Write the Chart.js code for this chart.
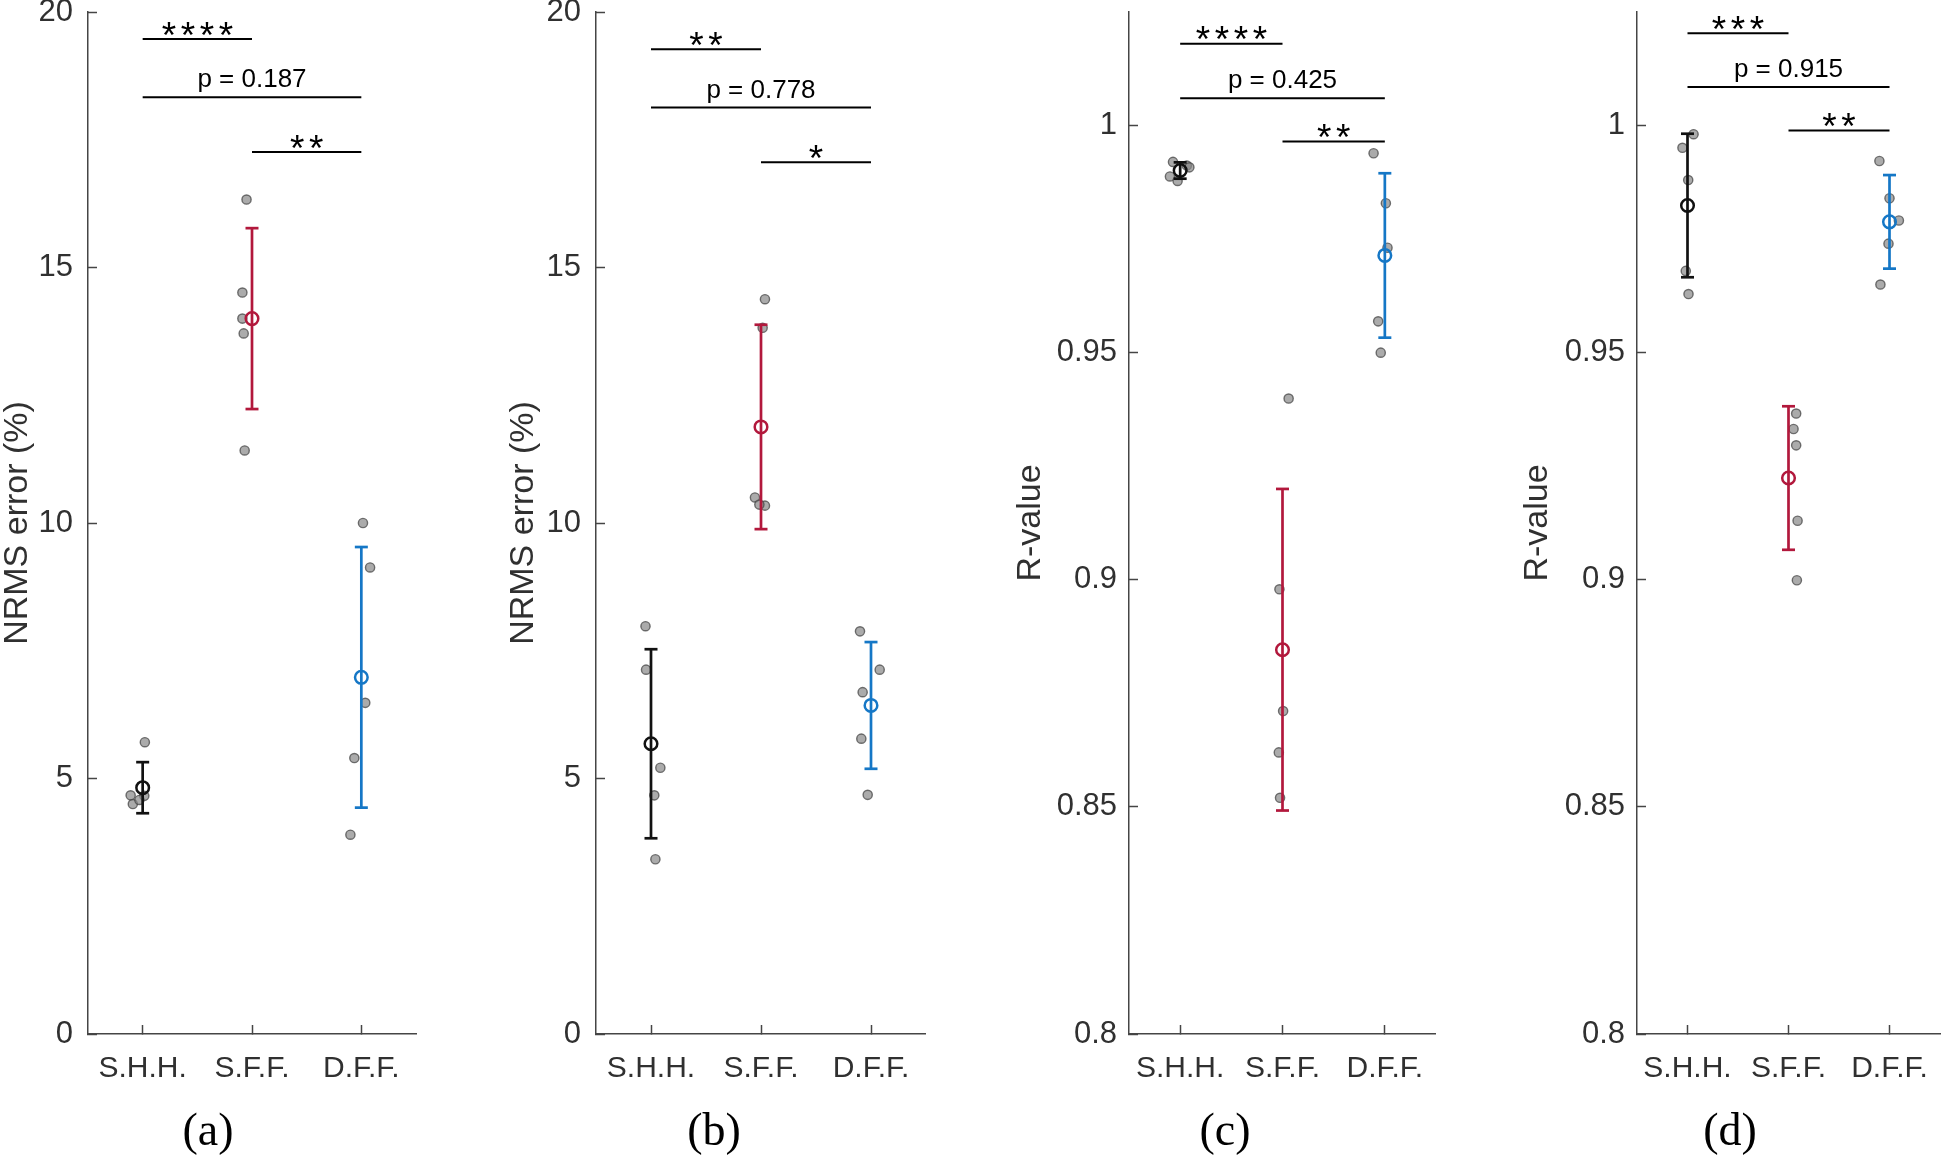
<!DOCTYPE html>
<html>
<head>
<meta charset="utf-8">
<script src="https://cdn.jsdelivr.net/npm/chart.js@4.4.1/dist/chart.umd.min.js"></script>
<style>
  html, body { margin: 0; padding: 0; background: #fff; overflow: hidden; }
  #fig { position: relative; width: 1943px; height: 1156px; overflow: hidden; }
  #fig canvas { position: absolute; top: 0; }
</style>
</head>
<body>
<div id="fig"></div>
<script>
// categorias y estilos comunes
const groups = ['S.H.H.', 'S.F.F.', 'D.F.F.'];
const catPos = [1, 2, 3];
const groupColors = ['#111111', '#B2183C', '#1577C6'];

const nrmsTicks = [0, 5, 10, 15, 20];
const nrmsTickLabels = ['0', '5', '10', '15', '20'];
const rTicks = [0.8, 0.85, 0.9, 0.95, 1];
const rTickLabels = ['0.8', '0.85', '0.9', '0.95', '1'];

// (a) NRMS error
const aDotX = [[1.02, 0.89, 0.91, 1.015, 0.97], [1.95, 1.912, 1.912, 1.924, 1.933], [3.015, 3.08, 3.036, 2.936, 2.90]];
const aDotY = [[5.71, 4.67, 4.50, 4.66, 4.58], [16.33, 14.51, 14.0, 13.71, 11.42], [10.0, 9.13, 6.48, 5.40, 3.90]];
const aMean = [4.82, 14.0, 6.98];
const aSd = [0.50, 1.77, 2.55];
const aSig = [[1, 2, 19.47, '****'], [1, 3, 18.33, 'p = 0.187'], [2, 3, 17.26, '**']];

// (b) NRMS error
const bDotX = [[0.95, 0.955, 1.085, 1.03, 1.04], [2.036, 2.015, 1.945, 2.036, 1.985], [2.90, 3.079, 2.924, 2.912, 2.97]];
const bDotY = [[7.98, 7.13, 5.21, 4.67, 3.42], [14.38, 13.82, 10.50, 10.34, 10.36], [7.88, 7.13, 6.69, 5.78, 4.68]];
const bMean = [5.68, 11.88, 6.43];
const bSd = [1.85, 2.0, 1.24];
const bSig = [[1, 2, 19.27, '**'], [1, 3, 18.13, 'p = 0.778'], [2, 3, 17.06, '*']];

// (c) R-value
const cDotX = [[0.93, 1.065, 1.09, 0.90, 0.975], [2.06, 1.97, 2.006, 1.964, 1.976], [2.89, 3.01, 3.026, 2.935, 2.96]];
const cDotY = [[0.9920, 0.9912, 0.9908, 0.9888, 0.9878], [0.9399, 0.8979, 0.8711, 0.8620, 0.8520], [0.9939, 0.9829, 0.9731, 0.9569, 0.9500]];
const cMean = [0.9901, 0.8846, 0.9714];
const cSd = [0.0018, 0.0354, 0.0181];
const cSig = [[1, 2, 1.018, '****'], [1, 3, 1.006, 'p = 0.425'], [2, 3, 0.9965, '**']];

// (d) R-value
const dDotX = [[1.06, 0.95, 1.007, 0.983, 1.01], [2.076, 2.05, 2.076, 2.09, 2.083], [2.90, 3.0, 3.093, 2.99, 2.91]];
const dDotY = [[0.9981, 0.9951, 0.9880, 0.9680, 0.9629], [0.9366, 0.9332, 0.9296, 0.9130, 0.8999], [0.9922, 0.9840, 0.9791, 0.9740, 0.9650]];
const dMean = [0.9824, 0.9224, 0.9788];
const dSd = [0.0158, 0.0158, 0.0103];
const dSig = [[1, 2, 1.0203, '***'], [1, 3, 1.0085, 'p = 0.915'], [2, 3, 0.9989, '**']];

const axisColor = '#454545';
const textColor = '#303030';
const sansFont = '"Liberation Sans", Arial, Helvetica, sans-serif';

Chart.defaults.font.family = sansFont;
Chart.defaults.color = textColor;
Chart.defaults.animation = false;

const panels = [
  { id: 'a', left: 0,    width: 418, yWidth: 88,  padRight: 2,  titlePad: 1, tickPad: 24,
    yTitle: 'NRMS error (%)', yMin: 0, yMax: 20, ticks: nrmsTicks, tickLabels: nrmsTickLabels,
    dotX: aDotX, dotY: aDotY, mean: aMean, sd: aSd, sig: aSig },
  { id: 'b', left: 502,  width: 424, yWidth: 94,  padRight: 0,  titlePad: 5, tickPad: 24,
    yTitle: 'NRMS error (%)', yMin: 0, yMax: 20, ticks: nrmsTicks, tickLabels: nrmsTickLabels,
    dotX: bDotX, dotY: bDotY, mean: bMean, sd: bSd, sig: bSig },
  { id: 'c', left: 1014, width: 422, yWidth: 115, padRight: 0,  titlePad: 0, tickPad: 21,
    yTitle: 'R-value', yMin: 0.8, yMax: 1.025, ticks: rTicks, tickLabels: rTickLabels,
    dotX: cDotX, dotY: cDotY, mean: cMean, sd: cSd, sig: cSig },
  { id: 'd', left: 1520, width: 464, yWidth: 117, padRight: 44, titlePad: 1, tickPad: 21,
    yTitle: 'R-value', yMin: 0.8, yMax: 1.025, ticks: rTicks, tickLabels: rTickLabels,
    dotX: dDotX, dotY: dDotY, mean: dMean, sd: dSd, sig: dSig },
];

// texto de significancia sobre cada barra
function makeSigPlugin(sig) {
  return {
    id: 'sigText',
    afterDatasetsDraw(chart) {
      const { ctx, scales: { x, y } } = chart;
      ctx.save();
      ctx.fillStyle = '#000';
      ctx.textAlign = 'center';
      ctx.textBaseline = 'alphabetic';
      sig.forEach(([a, b, level, text]) => {
        const cx = (x.getPixelForValue(a) + x.getPixelForValue(b)) / 2;
        const py = y.getPixelForValue(level);
        if (text[0] === '*') {
          ctx.font = '37px ' + sansFont;
          const m = ctx.measureText('*');
          const base = py - 10.5 + (m.actualBoundingBoxAscent - m.actualBoundingBoxDescent) / 2;
          for (let i = 0; i < text.length; i++) {
            ctx.fillText('*', cx + (i - (text.length - 1) / 2) * 19, base);
          }
        } else {
          ctx.font = '26px ' + sansFont;
          ctx.fillText(text, cx, py - 10);
        }
      });
      ctx.restore();
    }
  };
}

function buildDatasets(p) {
  const ds = [];
  groups.forEach((g, i) => {
    const c = groupColors[i];
    // marcador de la media
    ds.push({
      label: g + ' mean',
      data: [{ x: catPos[i], y: p.mean[i] }],
      pointStyle: 'circle', pointRadius: 6.3, pointBorderWidth: 2.5,
      pointBorderColor: c, pointBackgroundColor: 'rgba(0,0,0,0)',
      order: 0
    });
    // barra de error (desviacion estandar)
    ds.push({
      label: g + ' sd',
      data: [{ x: catPos[i], y: p.mean[i] - p.sd[i] }, { x: catPos[i], y: p.mean[i] + p.sd[i] }],
      showLine: true, borderColor: c, borderWidth: 2.7,
      pointStyle: 'line', pointRadius: 6.5, pointBorderWidth: 2.7,
      pointBorderColor: c, pointBackgroundColor: c,
      order: 1
    });
  });
  // puntos individuales
  ds.push({
    label: 'samples',
    data: p.dotX.flatMap((xs, i) => xs.map((xv, k) => ({ x: xv, y: p.dotY[i][k] }))),
    pointRadius: 4.6, pointBorderWidth: 1.4,
    pointBackgroundColor: 'rgba(135,135,135,0.7)', pointBorderColor: 'rgba(70,70,70,0.75)',
    order: 2
  });
  // lineas de comparacion
  p.sig.forEach(([a, b, level]) => {
    ds.push({
      label: 'sig',
      data: [{ x: a, y: level }, { x: b, y: level }],
      showLine: true, borderColor: '#000', borderWidth: 2, pointRadius: 0,
      order: 3
    });
  });
  return ds;
}

const fig = document.getElementById('fig');

panels.forEach(p => {
  const canvas = document.createElement('canvas');
  canvas.width = p.width;
  canvas.height = 1156;
  canvas.style.left = p.left + 'px';
  fig.appendChild(canvas);

  new Chart(canvas.getContext('2d'), {
    type: 'scatter',
    data: { datasets: buildDatasets(p) },
    plugins: [makeSigPlugin(p.sig)],
    options: {
      responsive: false,
      animation: false,
      events: [],
      layout: { autoPadding: false, padding: { left: 0, right: p.padRight, top: 12, bottom: 0 } },
      plugins: {
        legend: { display: false },
        tooltip: { enabled: false },
        title: {
          display: true,
          position: 'bottom',
          text: '(' + p.id + ')',
          color: '#000',
          padding: 0,
          font: { family: '"Liberation Serif", "Times New Roman", serif', size: 46, lineHeight: 1, weight: 'normal' }
        }
      },
      scales: {
        x: {
          type: 'linear',
          min: 0.5,
          max: 3.5,
          afterBuildTicks: s => { s.ticks = catPos.map(v => ({ value: v })); },
          afterFit: s => { s.height = 76; s.paddingLeft = 0; s.paddingRight = 0; },
          ticks: {
            callback: (v, i) => groups[i],
            font: { size: 30 },
            color: textColor,
            padding: 26,
            autoSkip: false,
            maxRotation: 0
          },
          grid: { drawOnChartArea: false, drawTicks: true, tickLength: -9, tickColor: axisColor, tickWidth: 1.5 },
          border: { display: true, color: axisColor, width: 1.5 }
        },
        y: {
          min: p.yMin,
          max: p.yMax,
          afterBuildTicks: s => { s.ticks = p.ticks.map(v => ({ value: v })); },
          afterFit: s => { s.width = p.yWidth; s.paddingTop = 0; s.paddingBottom = 0; },
          ticks: {
            callback: (v, i) => p.tickLabels[i],
            font: { size: 31 },
            color: textColor,
            padding: p.tickPad
          },
          title: {
            display: true,
            text: p.yTitle,
            color: textColor,
            font: { size: 34, lineHeight: 1 },
            padding: { top: p.titlePad, bottom: 0 }
          },
          grid: { drawOnChartArea: false, drawTicks: true, tickLength: -9, tickColor: axisColor, tickWidth: 1.5 },
          border: { display: true, color: axisColor, width: 1.5 }
        }
      }
    }
  });
});
</script>
</body>
</html>
